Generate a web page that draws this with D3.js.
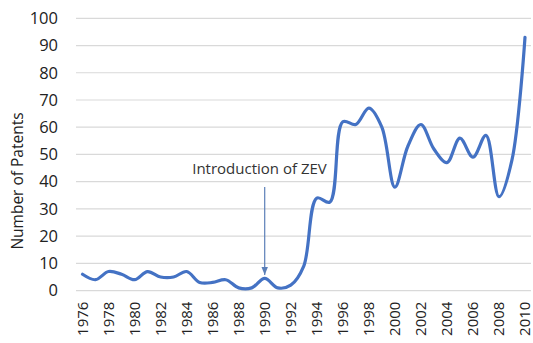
<!DOCTYPE html>
<html>
<head>
<meta charset="utf-8">
<script src="https://cdn.jsdelivr.net/npm/d3@7"></script>
<style>
  html, body { margin: 0; padding: 0; background: #fff; }
  svg { display: block; font-family: "Open Sans", "Noto Sans", sans-serif; }
</style>
</head>
<body>
<svg id="chart" width="533" height="343"></svg>
<script>
// Patent counts per year
const years = [1976,1977,1978,1979,1980,1981,1982,1983,1984,1985,1986,1987,1988,1989,1990,1991,1992,1993,1994,1995,1996,1997,1998,1999,2000,2001,2002,2003,2004,2005,2006,2007,2008,2009,2010];
const patents = [6,4,7,6,4,7,5,5,7,3,3,4,1,1,4.5,1,2,9,34,32.5,62,61,67,60,38,53,61,52,47,56,49,57,34.5,48,93];
const yTicks = [0,10,20,30,40,50,60,70,80,90,100];
const xTickLabels = years.filter(y => y % 2 === 0);
const annotationText = "Introduction of ZEV";
const annotationYear = 1990;

const svg = d3.select("#chart");
const margin = { left: 76, right: 1.5, top: 18.3, bottom: 52.4 };
const W = 533, H = 343;

const x = d3.scaleBand().domain(years).range([margin.left, W - margin.right]);
const y = d3.scaleLinear().domain([0, 100]).range([H - margin.bottom, margin.top]);
const cx = d => x(d) + x.bandwidth() / 2;

// horizontal gridlines
svg.append("g").selectAll("line").data(yTicks).join("line")
  .attr("x1", margin.left).attr("x2", W - 2)
  .attr("y1", d => y(d)).attr("y2", d => y(d))
  .attr("stroke", "#d9d9d9").attr("stroke-width", 1.2);

// y axis labels
const yAxis = d3.axisLeft(y).tickValues(yTicks).tickSize(0).tickPadding(0);
const gy = svg.append("g").attr("transform", `translate(58,0)`).call(yAxis);
gy.select(".domain").remove();
gy.selectAll("text").attr("font-size", 16.5).attr("fill", "#222").attr("font-family", "Open Sans");

// x axis labels (every second year, rotated)
const xAxis = d3.axisBottom(x).tickValues(xTickLabels).tickSize(0).tickPadding(0);
const gx = svg.append("g").attr("transform", `translate(0,${H - margin.bottom})`).call(xAxis);
gx.select(".domain").remove();
gx.selectAll("text")
  .attr("font-size", 15).attr("fill", "#222").attr("font-family", "Open Sans")
  .attr("text-anchor", "end")
  .attr("dy", null)
  .attr("transform", "translate(5.5,11) rotate(-90)");

// y axis title
svg.append("text")
  .attr("transform", "translate(23,181) rotate(-90)")
  .attr("text-anchor", "middle")
  .attr("font-size", 15.5).attr("fill", "#222")
  .text("Number of Patents");

// data line
const line = d3.line()
  .x((d, i) => cx(years[i]))
  .y(d => y(d))
  .curve(d3.curveCatmullRom.alpha(0.5));
svg.append("path").datum(patents)
  .attr("d", line)
  .attr("fill", "none")
  .attr("stroke", "#4472C4")
  .attr("stroke-width", 3.2)
  .attr("stroke-linejoin", "round")
  .attr("stroke-linecap", "round");

// annotation
const ax = cx(annotationYear);
svg.append("text")
  .attr("x", 259.5).attr("y", 173.5)
  .attr("text-anchor", "middle")
  .attr("font-size", 15).attr("fill", "#333")
  .text(annotationText);
svg.append("defs").append("marker")
  .attr("id", "arrowhead").attr("viewBox", "0 0 10 10")
  .attr("refX", 10).attr("refY", 5)
  .attr("markerWidth", 7).attr("markerHeight", 7)
  .attr("orient", "auto")
  .append("path").attr("d", "M0,1 L10,5 L0,9 Z").attr("fill", "#5b7fb8");
svg.append("line")
  .attr("x1", ax).attr("x2", ax)
  .attr("y1", 187).attr("y2", 275)
  .attr("stroke", "#5b7fb8").attr("stroke-width", 1.2)
  .attr("marker-end", "url(#arrowhead)");
</script>
</body>
</html>
